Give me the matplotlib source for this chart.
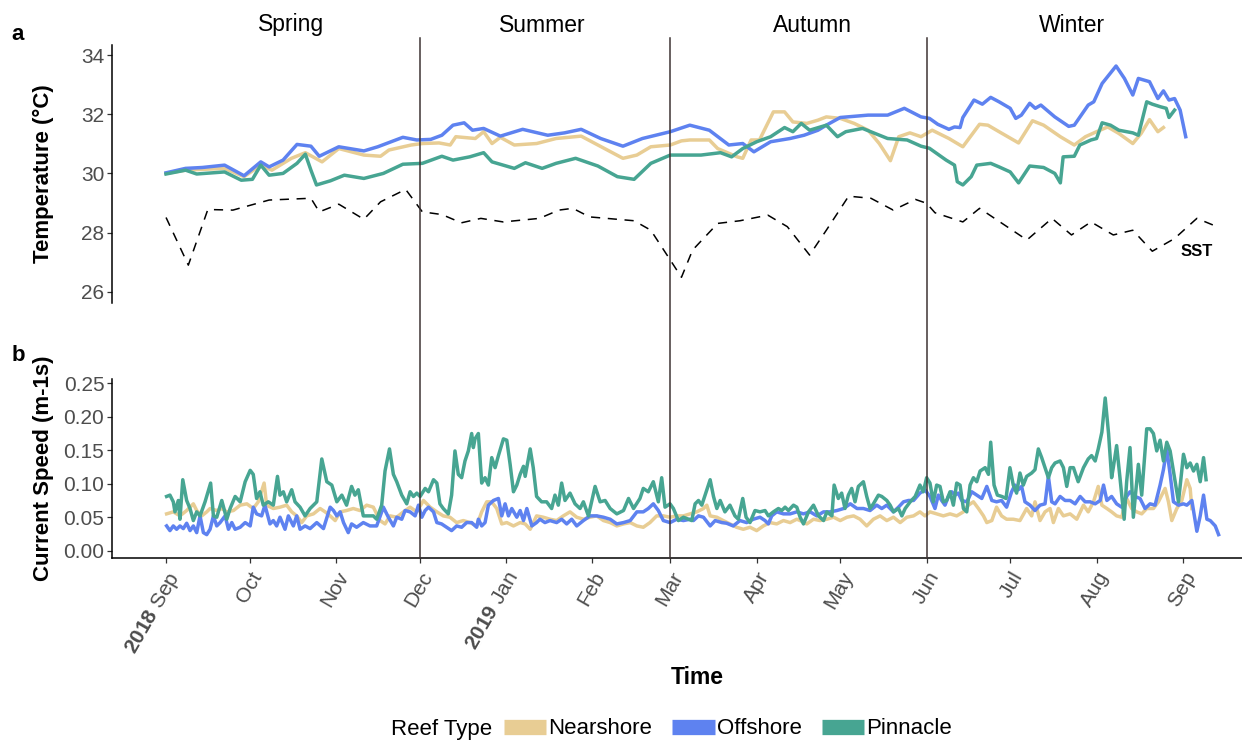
import numpy as np
import pandas as pd
import matplotlib
matplotlib.use('Agg')
import matplotlib.pyplot as plt
import matplotlib.dates as mdates
from matplotlib.lines import Line2D
from matplotlib.transforms import blended_transform_factory

plt.rcParams['font.family'] = ['Liberation Sans', 'DejaVu Sans']
plt.rcParams['mathtext.fontset'] = 'custom'
plt.rcParams['mathtext.bf'] = 'Liberation Sans:bold'
plt.rcParams['mathtext.rm'] = 'Liberation Sans'

# days are counted from 1 Sep 2018
START = pd.Timestamp('2018-09-01')

reef_types = ['Nearshore', 'Offshore', 'Pinnacle']
reef_colors = ['#E8CD94', '#5E82F0', '#47A592']

# ---- temperature (panel a) ----
near_temp_day = [0, 7, 21, 28, 34, 38, 45, 50, 56, 62, 71, 77, 80, 88, 92, 98, 102, 104, 111, 114,
                 117, 120, 125, 133, 140, 149, 155, 164, 169, 174, 181, 185, 188, 195, 198, 205, 207, 210, 213, 218,
                 222, 225, 230, 234, 237, 242, 247, 252, 256, 260, 263, 267, 271, 275, 281, 286, 292, 295, 299, 306,
                 311, 315, 321, 326, 330, 334, 338, 342, 347, 350, 353, 356, 358]
near_temp = [30.00, 30.11, 30.17, 29.89, 30.28, 30.11, 30.51, 30.70, 30.39, 30.84,
             30.62, 30.58, 30.79, 30.96, 31.01, 31.03, 30.96, 31.24, 31.18, 31.41,
             31.01, 31.22, 30.96, 31.01, 31.18, 31.26, 30.96, 30.51, 30.62, 30.90,
             30.96, 31.10, 31.13, 31.13, 30.84, 30.56, 30.51, 31.13, 31.13, 32.08,
             32.08, 31.74, 31.69, 31.80, 31.91, 31.86, 31.69, 31.46, 31.01, 30.43,
             31.24, 31.37, 31.24, 31.46, 31.18, 30.90, 31.66, 31.63, 31.41, 31.03,
             31.78, 31.63, 31.24, 30.96, 31.24, 31.41, 31.57, 31.35, 31.01, 31.35,
             31.82, 31.41, 31.55]

off_temp_day = [0, 7, 13, 21, 28, 34, 37, 42, 47, 52, 55, 62, 71, 76, 85, 90, 95, 99, 103, 107,
                110, 114, 120, 128, 137, 143, 149, 156, 164, 171, 181, 188, 195, 202, 207, 211, 217, 224, 229, 234,
                237, 242, 252, 259, 265, 271, 274, 277, 281, 283, 285, 286, 290, 293, 296, 299, 303, 305, 307, 310,
                312, 314, 319, 324, 326, 331, 333, 336, 341, 344, 347, 349, 353, 356, 358, 360, 362, 364, 366]
off_temp = [30.02, 30.17, 30.20, 30.28, 29.92, 30.39, 30.22, 30.45, 30.98, 30.92,
            30.58, 30.90, 30.76, 30.90, 31.22, 31.13, 31.15, 31.29, 31.63, 31.71,
            31.46, 31.52, 31.26, 31.49, 31.29, 31.37, 31.49, 31.18, 30.92, 31.18,
            31.41, 31.63, 31.46, 30.96, 31.01, 30.73, 31.07, 31.18, 31.29, 31.46,
            31.63, 31.89, 31.97, 31.97, 32.20, 31.91, 31.86, 31.66, 31.49, 31.57,
            31.55, 31.89, 32.48, 32.34, 32.57, 32.42, 32.20, 31.86, 31.97, 32.37,
            32.20, 32.31, 31.91, 31.59, 31.63, 32.31, 32.42, 33.04, 33.63, 33.21,
            32.65, 33.21, 33.10, 32.53, 32.79, 32.48, 32.53, 32.14, 31.24]

pin_temp_day = [0, 7, 11, 21, 27, 31, 34, 37, 42, 47, 50, 52, 54, 59, 64, 71, 78, 85, 92, 99,
                103, 109, 114, 117, 125, 129, 135, 140, 147, 155, 162, 168, 174, 181, 185, 192, 199, 203, 207, 212,
                217, 222, 225, 228, 231, 237, 241, 244, 250, 259, 266, 271, 274, 280, 283, 284, 286, 289, 291, 296,
                299, 303, 306, 310, 315, 319, 321, 322, 326, 328, 332, 334, 336, 339, 342, 347, 349, 352, 354, 357,
                359, 360, 362]
pin_temp = [29.98, 30.11, 29.98, 30.05, 29.77, 29.80, 30.28, 29.94, 30.00, 30.34,
            30.65, 30.11, 29.61, 29.75, 29.94, 29.83, 30.00, 30.31, 30.34, 30.58,
            30.45, 30.56, 30.70, 30.39, 30.17, 30.36, 30.17, 30.34, 30.51, 30.25,
            29.89, 29.80, 30.34, 30.62, 30.62, 30.62, 30.70, 30.56, 30.84, 31.07,
            31.24, 31.55, 31.41, 31.69, 31.46, 31.63, 31.24, 31.41, 31.52, 31.18,
            31.13, 30.92, 30.85, 30.45, 30.28, 29.72, 29.61, 29.89, 30.28, 30.34,
            30.22, 30.05, 29.68, 30.25, 30.20, 30.00, 29.68, 30.56, 30.58, 30.96,
            31.13, 31.18, 31.71, 31.63, 31.46, 31.37, 31.29, 32.42, 32.34, 32.25,
            32.20, 31.89, 32.14]

sst_day = [0, 8, 15, 24, 37, 52, 55, 62, 71, 77, 86, 92, 99, 106, 113, 121, 134, 141, 146, 152,
           168, 174, 181, 185, 189, 198, 206, 216, 223, 231, 237, 245, 253, 261, 269, 273, 276, 286, 292, 309,
           318, 325, 332, 340, 347, 354, 362, 370, 378]
sst = [28.51, 26.90, 28.78, 28.76, 29.10, 29.16, 28.70, 28.96, 28.45, 29.04,
       29.46, 28.70, 28.61, 28.33, 28.48, 28.36, 28.48, 28.76, 28.82, 28.53,
       28.40, 28.08, 27.07, 26.49, 27.41, 28.31, 28.40, 28.59, 28.20, 27.24,
       28.08, 29.23, 29.16, 28.76, 29.12, 28.99, 28.67, 28.36, 28.82, 27.75,
       28.48, 27.92, 28.36, 27.92, 28.08, 27.37, 27.80, 28.48, 28.17]

# ---- current speed (panel b) ----
near_cur_day = [0.2, 2.6, 5.0, 7.4, 9.8, 11.0, 12.8, 14.6, 15.8, 18.2, 20.0, 21.8, 24.2, 26.6, 29.0, 31.3,
                33.1, 35.2, 36.1, 38.5, 40.9, 43.3, 45.1, 46.9, 48.7, 50.5, 52.9, 55.3, 57.1, 58.9, 60.7, 62.5,
                64.8, 67.2, 69.6, 72.0, 74.4, 76.8, 78.6, 80.4, 82.8, 85.2,
                87.6, 90.0, 92.4, 94.8, 97.2, 99.5, 101.9, 104.3, 106.7, 109.1, 111.5, 113.3, 115.1, 116.9,
                118.7, 120.5, 122.3, 124.7, 127.1, 128.9, 130.7, 133.0, 135.4, 137.8, 140.2, 142.6, 145.0, 147.4,
                149.8, 152.2, 154.6, 157.0, 159.4, 161.8, 164.2, 166.6, 169.0, 171.3, 173.7, 176.1, 178.5,
                180.9, 183.3, 185.7, 188.1, 190.5, 192.9, 194.1, 195.3, 197.7, 200.0, 202.4, 204.8, 207.2, 209.6,
                212.0, 214.4, 216.8, 219.2, 221.6, 224.0, 226.4, 227.6, 230.0, 232.4, 234.8, 237.2, 239.6, 242.0,
                244.4, 246.8, 249.1, 251.5, 253.9, 256.3, 258.7, 261.1, 263.5, 265.9, 268.3,
                270.6, 272.4, 274.2, 276.6, 279.0, 281.4, 283.8, 286.2, 288.0, 289.8, 291.6, 293.4, 294.6, 296.4,
                298.1, 299.9, 301.7, 304.1, 306.5, 308.9, 310.7, 311.9, 313.7, 315.5, 317.3, 318.5, 320.3, 322.1,
                324.5, 326.9, 329.3, 331.0, 332.9, 334.6, 335.9, 337.7, 339.4, 341.2, 343.0, 344.8, 346.6, 348.4,
                350.2, 352.0, 354.4, 356.2, 358.6, 359.8, 361.0, 362.8, 364.6, 366.4, 367.6, 368.2]
near_cur = [0.055, 0.058, 0.052, 0.060, 0.070, 0.060, 0.052, 0.058, 0.063, 0.060, 0.063, 0.058, 0.060, 0.068, 0.070, 0.063,
            0.073, 0.101, 0.068, 0.063, 0.065, 0.068, 0.058, 0.052, 0.042, 0.052, 0.055, 0.063, 0.058, 0.052, 0.045, 0.058,
            0.060, 0.063, 0.060, 0.068, 0.065, 0.045, 0.040, 0.052, 0.050, 0.058,
            0.065, 0.058, 0.075, 0.065, 0.058, 0.052, 0.050, 0.042, 0.045, 0.042, 0.037, 0.058, 0.073, 0.073,
            0.063, 0.040, 0.042, 0.037, 0.042, 0.040, 0.032, 0.052, 0.050, 0.047, 0.045, 0.052, 0.058, 0.050,
            0.047, 0.050, 0.052, 0.045, 0.042, 0.037, 0.040, 0.042, 0.037, 0.035, 0.042, 0.052, 0.052,
            0.050, 0.052, 0.052, 0.055, 0.058, 0.063, 0.068, 0.052, 0.050, 0.045, 0.040, 0.035, 0.032, 0.035,
            0.030, 0.037, 0.042, 0.040, 0.045, 0.042, 0.047, 0.045, 0.040, 0.047, 0.045, 0.047, 0.050, 0.045,
            0.050, 0.052, 0.047, 0.037, 0.047, 0.052, 0.045, 0.050, 0.042, 0.050, 0.052,
            0.058, 0.052, 0.058, 0.055, 0.052, 0.055, 0.052, 0.058, 0.068, 0.073, 0.063, 0.052, 0.042, 0.045,
            0.065, 0.052, 0.047, 0.047, 0.045, 0.063, 0.052, 0.073, 0.045, 0.058, 0.063, 0.042, 0.063, 0.052,
            0.055, 0.047, 0.068, 0.058, 0.073, 0.096, 0.068, 0.063, 0.058, 0.052, 0.050, 0.078, 0.063, 0.058,
            0.055, 0.063, 0.063, 0.073, 0.093, 0.073, 0.045, 0.063, 0.075, 0.106, 0.093, 0.063]

off_cur_day = [0.2, 1.4, 2.6, 3.8, 5.0, 6.2, 7.4, 8.6, 9.8, 11.0, 12.2, 13.4, 14.6, 15.8, 17.0, 18.2,
               19.4, 21.2, 22.4, 23.6, 24.8, 26.6, 28.4, 30.2, 31.3, 32.5, 34.3, 35.5, 37.3, 38.5, 39.7, 40.9,
               42.7, 43.9, 45.7, 46.9, 48.1, 49.9, 51.7, 54.1, 56.5, 58.9, 60.1, 61.3, 62.5, 63.7, 65.4, 66.6,
               68.4, 70.8, 73.2, 75.6, 78.0, 79.8, 81.6, 82.8, 84.6, 85.8,
               87.6, 89.4, 90.6, 91.8, 93.0, 94.2, 96.0, 97.2, 98.9, 100.7, 102.5, 104.3, 106.1, 107.9,
               109.7, 111.5, 112.1, 113.3, 114.5, 115.7, 117.5, 119.3, 120.5, 121.7, 122.9, 124.1, 125.9, 127.1,
               128.3, 129.5, 131.3, 133.0, 134.2, 136.0, 137.8, 140.2, 142.0, 143.8, 145.6, 147.4, 149.8, 152.2,
               154.6, 157.0, 159.4, 161.8, 164.2, 166.6, 169.0, 171.3, 173.1, 174.9, 176.7, 178.5,
               180.9, 183.3, 185.7, 188.1, 189.3, 191.1, 192.9, 195.3, 197.1, 199.5, 201.2, 203.6, 206.0, 208.4,
               210.8, 213.2, 215.0, 216.2, 217.4, 219.2, 221.6, 224.0, 226.4, 228.8, 231.2, 233.6, 236.0, 238.4,
               240.8, 243.2, 245.6, 248.0, 250.3, 252.7, 255.1, 256.9, 258.7, 261.1, 262.9, 264.7, 266.5, 268.3,
               270.6, 272.4, 274.2, 276.0, 277.2, 278.4, 279.6, 280.8, 282.0, 283.2, 284.4, 285.6, 287.4, 289.2,
               291.0, 292.8, 294.6, 296.4, 298.1, 299.9, 301.7, 303.5, 304.7, 305.9, 307.1, 308.3, 310.1, 311.9,
               313.7, 315.5, 316.7, 317.9, 319.1, 320.9, 322.7, 324.5, 326.3, 328.1, 329.9, 331.7, 333.5, 335.3,
               336.5, 337.7, 339.4, 341.2, 343.0, 344.8, 346.0, 347.8, 349.6, 351.4, 353.2, 355.0, 356.8, 358.0,
               359.2, 360.4, 361.6, 363.4, 365.2, 366.4, 368.2, 370.0, 371.2, 372.4, 373.6, 374.8, 376.6, 377.8]
off_cur = [0.037, 0.030, 0.037, 0.032, 0.037, 0.033, 0.041, 0.030, 0.037, 0.027, 0.052, 0.027, 0.024, 0.032, 0.052, 0.037,
           0.042, 0.052, 0.032, 0.042, 0.032, 0.035, 0.042, 0.037, 0.065, 0.055, 0.052, 0.068, 0.040, 0.045, 0.037, 0.050,
           0.032, 0.052, 0.037, 0.052, 0.032, 0.037, 0.033, 0.042, 0.033, 0.065, 0.060, 0.052, 0.058, 0.042, 0.027, 0.040,
           0.035, 0.042, 0.037, 0.037, 0.065, 0.050, 0.037, 0.050, 0.047, 0.060,
           0.058, 0.052, 0.068, 0.050, 0.060, 0.065, 0.058, 0.042, 0.040, 0.035, 0.030, 0.037, 0.035, 0.042,
           0.042, 0.035, 0.047, 0.037, 0.042, 0.068, 0.075, 0.078, 0.052, 0.070, 0.052, 0.063, 0.050, 0.060,
           0.045, 0.063, 0.037, 0.042, 0.047, 0.042, 0.045, 0.042, 0.047, 0.040, 0.047, 0.037, 0.045, 0.052,
           0.052, 0.050, 0.047, 0.040, 0.042, 0.045, 0.058, 0.058, 0.063, 0.070, 0.060, 0.045,
           0.042, 0.047, 0.045, 0.047, 0.045, 0.052, 0.050, 0.037, 0.045, 0.042, 0.041, 0.037, 0.045, 0.042,
           0.047, 0.050, 0.045, 0.040, 0.052, 0.058, 0.055, 0.055, 0.058, 0.055, 0.058, 0.052, 0.058, 0.058,
           0.060, 0.063, 0.070, 0.063, 0.063, 0.060, 0.068, 0.063, 0.068, 0.058, 0.065, 0.073, 0.075, 0.075,
           0.086, 0.091, 0.081, 0.063, 0.083, 0.075, 0.068, 0.081, 0.088, 0.083, 0.086, 0.075, 0.073, 0.088,
           0.083, 0.078, 0.096, 0.075, 0.073, 0.075, 0.065, 0.088, 0.098, 0.091, 0.096, 0.073, 0.068, 0.060,
           0.068, 0.070, 0.111, 0.073, 0.070, 0.081, 0.075, 0.075, 0.070, 0.081, 0.073, 0.073, 0.070, 0.075,
           0.098, 0.075, 0.081, 0.070, 0.065, 0.081, 0.088, 0.081, 0.078, 0.063, 0.070, 0.068, 0.098, 0.121,
           0.152, 0.114, 0.073, 0.068, 0.070, 0.068, 0.075, 0.029, 0.052, 0.083, 0.047, 0.045, 0.037, 0.024]

pin_cur_day = [0.2, 1.4, 2.6, 3.2, 4.4, 5.0, 6.0, 7.4, 8.6, 9.8, 11.0, 12.2, 14.0, 16.0, 17.0, 18.2,
               20.0, 21.8, 23.0, 24.8, 26.6, 28.4, 30.2, 31.3, 32.5, 33.7, 34.9, 36.7, 38.5, 40.0, 40.9, 42.1,
               43.3, 45.1, 46.3, 48.1, 49.9, 51.7, 54.1, 55.9, 57.7, 59.5, 61.3, 63.1, 64.8, 66.6, 67.8, 69.0,
               70.8, 72.6, 74.4, 75.6, 77.4, 78.6, 80.2, 81.6, 82.8, 84.6, 86.4,
               87.6, 88.8, 90.0, 91.2, 93.0, 94.2, 96.0, 97.2, 98.3, 99.5, 101.3, 102.5, 103.7, 104.9,
               106.1, 107.3, 108.5, 109.7, 110.3, 110.9, 112.1, 113.3, 114.5, 115.7, 116.9, 118.1, 119.3, 121.1,
               122.3, 123.5, 124.7, 125.9, 127.1, 128.3, 128.9, 130.7, 131.8, 133.0, 134.8, 136.6, 138.4, 139.6,
               140.8, 142.0, 143.2, 145.0, 146.8, 148.6, 149.8, 151.6, 154.0, 155.8, 157.6, 159.4, 161.8, 164.2,
               166.0, 167.8, 170.1, 171.3, 173.1, 174.9, 176.7, 177.9, 179.1,
               180.9, 182.1, 183.9, 185.7, 187.5, 188.7, 189.9, 191.1, 192.3, 193.5, 195.3, 196.5, 197.7, 198.9,
               200.6, 202.4, 204.2, 205.4, 207.0, 208.2, 209.6, 211.4, 213.2, 215.0, 216.2, 218.0, 219.8, 221.0,
               222.2, 223.4, 225.2, 226.4, 227.6, 228.8, 230.6, 232.4, 234.2, 236.0, 237.2, 239.0, 239.8, 241.3,
               242.5, 243.7, 244.9, 246.1, 247.3, 248.5, 250.3, 251.5, 252.7, 253.9, 255.7, 256.9, 258.7, 259.9,
               261.1, 262.9, 264.1, 265.3, 267.1, 268.9,
               270.6, 271.8, 273.0, 274.2, 275.4, 276.6, 277.8, 279.0, 280.2, 281.4, 282.6, 283.8, 285.0, 286.2,
               287.4, 288.6, 289.8, 291.0, 292.2, 294.0, 295.2, 296.0, 297.2, 298.4, 300.0, 301.5, 302.9, 304.1,
               305.3, 306.5, 307.7, 308.9, 310.7, 311.9, 313.1, 314.3, 315.5, 316.7, 317.9, 319.1, 320.9, 322.1,
               323.3, 324.5, 325.7, 327.4, 329.3, 331.0, 332.2, 333.5, 334.6, 335.9, 337.1, 338.3, 339.4, 340.0,
               341.2, 342.4, 343.9, 344.8, 346.0, 347.2, 349.0, 350.2, 352.0, 353.2, 354.4, 355.6, 356.8, 358.0,
               359.2, 360.4, 361.6, 363.4, 365.2, 366.4, 367.6, 368.8, 370.0, 371.2, 372.4, 373.3]
pin_cur = [0.081, 0.083, 0.073, 0.058, 0.075, 0.047, 0.106, 0.075, 0.063, 0.045, 0.058, 0.052, 0.073, 0.101, 0.052, 0.050,
           0.075, 0.047, 0.063, 0.081, 0.073, 0.103, 0.120, 0.114, 0.078, 0.088, 0.068, 0.073, 0.068, 0.111, 0.083, 0.088,
           0.073, 0.091, 0.073, 0.065, 0.052, 0.063, 0.073, 0.137, 0.103, 0.098, 0.073, 0.083, 0.068, 0.096, 0.083, 0.091,
           0.052, 0.052, 0.052, 0.047, 0.068, 0.119, 0.152, 0.114, 0.103, 0.083, 0.070,
           0.088, 0.081, 0.086, 0.081, 0.093, 0.088, 0.106, 0.101, 0.070, 0.063, 0.055, 0.083, 0.149, 0.114,
           0.109, 0.134, 0.149, 0.175, 0.154, 0.167, 0.175, 0.101, 0.109, 0.098, 0.139, 0.124, 0.142, 0.167,
           0.165, 0.129, 0.088, 0.098, 0.114, 0.126, 0.111, 0.152, 0.124, 0.081, 0.073, 0.073, 0.063, 0.083,
           0.068, 0.101, 0.075, 0.086, 0.070, 0.063, 0.073, 0.052, 0.096, 0.073, 0.075, 0.063, 0.055, 0.060,
           0.078, 0.063, 0.078, 0.093, 0.088, 0.103, 0.073, 0.109, 0.065,
           0.070, 0.063, 0.045, 0.050, 0.047, 0.045, 0.070, 0.075, 0.068, 0.083, 0.106, 0.081, 0.063, 0.075,
           0.058, 0.068, 0.052, 0.047, 0.078, 0.050, 0.042, 0.060, 0.058, 0.060, 0.052, 0.058, 0.063, 0.060,
           0.065, 0.060, 0.068, 0.065, 0.050, 0.040, 0.058, 0.068, 0.052, 0.045, 0.058, 0.052, 0.098, 0.078,
           0.086, 0.063, 0.083, 0.093, 0.073, 0.096, 0.103, 0.081, 0.063, 0.070, 0.083, 0.081, 0.075, 0.068,
           0.058, 0.063, 0.052, 0.063, 0.073, 0.081,
           0.098, 0.088, 0.109, 0.101, 0.073, 0.098, 0.096, 0.073, 0.075, 0.088, 0.068, 0.101, 0.098, 0.063,
           0.058, 0.098, 0.109, 0.103, 0.119, 0.124, 0.114, 0.162, 0.098, 0.083, 0.081, 0.078, 0.124, 0.098,
           0.086, 0.116, 0.098, 0.111, 0.116, 0.121, 0.152, 0.139, 0.124, 0.109, 0.124, 0.131, 0.134, 0.124,
           0.096, 0.124, 0.124, 0.103, 0.124, 0.137, 0.142, 0.134, 0.152, 0.177, 0.228, 0.175, 0.109, 0.124,
           0.157, 0.109, 0.047, 0.103, 0.154, 0.050, 0.129, 0.083, 0.182, 0.182, 0.175, 0.149, 0.165, 0.134,
           0.162, 0.149, 0.119, 0.073, 0.144, 0.124, 0.131, 0.119, 0.129, 0.103, 0.139, 0.106]

month_ticks = pd.date_range('2018-09-01', '2019-09-01', freq='MS')
month_labels = [r'$\mathbf{2018}$ Sep', 'Oct', 'Nov', 'Dec', r'$\mathbf{2019}$ Jan', 'Feb', 'Mar',
                'Apr', 'May', 'Jun', 'Jul', 'Aug', 'Sep']

season_names = ['Spring', 'Summer', 'Autumn', 'Winter']
season_label_dates = pd.to_datetime(['2018-10-16', '2019-01-14', '2019-04-21', '2019-07-23'])
season_breaks = pd.to_datetime(['2018-12-01', '2019-03-01', '2019-06-01'])


def to_dates(days):
    return START + pd.to_timedelta(np.asarray(days, dtype=float), unit='D')


W, H = 1242, 742
fig = plt.figure(figsize=(W / 100, H / 100), dpi=100)
ax_t = fig.add_axes([112 / W, 1 - 303 / H, (W - 112) / W, (303 - 45) / H])
ax_b = fig.add_axes([112 / W, 1 - 558 / H, (W - 112) / W, (558 - 379) / H])

xlim = to_dates([-19.4, 386.2])
tick_col = '#4D4D4D'
line_w = 2.5

# panel a: temperature per reef type + SST
temp_series = [(near_temp_day, near_temp), (off_temp_day, off_temp), (pin_temp_day, pin_temp)]
for (d, v), c in zip(temp_series, reef_colors):
    ax_t.plot(to_dates(d), v, color=c, lw=line_w, solid_joinstyle='round')
ax_t.plot(to_dates(sst_day), sst, color='black', lw=1.1, linestyle=(0, (6, 5)))
ax_t.text(to_dates([370])[0], 27.37, 'SST', fontsize=12, fontweight='bold', ha='center', va='center')

ax_t.set_xlim(xlim)
ax_t.set_ylim(25.62, 34.34)
ax_t.set_yticks([26, 28, 30, 32, 34])
ax_t.set_xticks([])
for s in ['top', 'right', 'bottom']:
    ax_t.spines[s].set_visible(False)
ax_t.set_ylabel('Temperature (°C)', fontsize=16, fontweight='bold')
ax_t.yaxis.set_label_coords(-0.051, 0.5)

# panel b: current speed
cur_series = [(near_cur_day, near_cur), (off_cur_day, off_cur), (pin_cur_day, pin_cur)]
for (d, v), c in zip(cur_series, reef_colors):
    ax_b.plot(to_dates(d), v, color=c, lw=line_w, solid_joinstyle='round')

ax_b.set_xlim(xlim)
ax_b.set_ylim(-0.0109, 0.2564)
ax_b.set_yticks([0, 0.05, 0.10, 0.15, 0.20, 0.25])
ax_b.set_yticklabels(['0.00', '0.05', '0.10', '0.15', '0.20', '0.25'])
ax_b.set_xticks(month_ticks)
ax_b.set_xticklabels(month_labels, rotation=60, ha='right', va='top', rotation_mode='anchor')
for s in ['top', 'right']:
    ax_b.spines[s].set_visible(False)
ax_b.set_ylabel('Current Speed (m-1s)', fontsize=16, fontweight='bold')
ax_b.yaxis.set_label_coords(-0.051, 0.5)

for ax in (ax_t, ax_b):
    for s in ['left', 'bottom']:
        ax.spines[s].set_linewidth(1.1)
    ax.tick_params(axis='both', length=3.5, width=0.9, colors='#333333', labelcolor=tick_col,
                   labelsize=15, pad=2)
ax_b.tick_params(axis='x', pad=4)

# season dividers run through both panels
tr = blended_transform_factory(ax_b.transData, fig.transFigure)
for d in mdates.date2num(season_breaks):
    fig.add_artist(Line2D([d, d], [1 - 38 / H, 1 - 558 / H], transform=tr,
                          color='#3E3434', lw=1.1))
tr_t = blended_transform_factory(ax_t.transData, fig.transFigure)
for name, d in zip(season_names, mdates.date2num(season_label_dates)):
    fig.text(d, 1 - 25 / H, name, transform=tr_t, fontsize=16.5, ha='center', va='center')

fig.text(18 / W, 1 - 35 / H, 'a', fontsize=16, fontweight='bold', ha='center', va='center')
fig.text(18 / W, 1 - 355 / H, 'b', fontsize=16, fontweight='bold', ha='center', va='center')
fig.text(697 / W, 1 - 678 / H, 'Time', fontsize=16.5, fontweight='bold', ha='center', va='center')

# legend along the bottom
fig.text(391 / W, 1 - 729 / H, 'Reef Type', fontsize=16, ha='left', va='center')
handles = [Line2D([], [], color=c, lw=11, solid_capstyle='butt') for c in reef_colors]
fig.legend(handles, reef_types, loc='center left', bbox_to_anchor=(504 / W, 1 - 729 / H),
           ncol=3, frameon=False, fontsize=16, handlelength=1.9, handletextpad=0.1,
           columnspacing=0.9, borderpad=0, borderaxespad=0)

fig.savefig('out.png', dpi=100)
